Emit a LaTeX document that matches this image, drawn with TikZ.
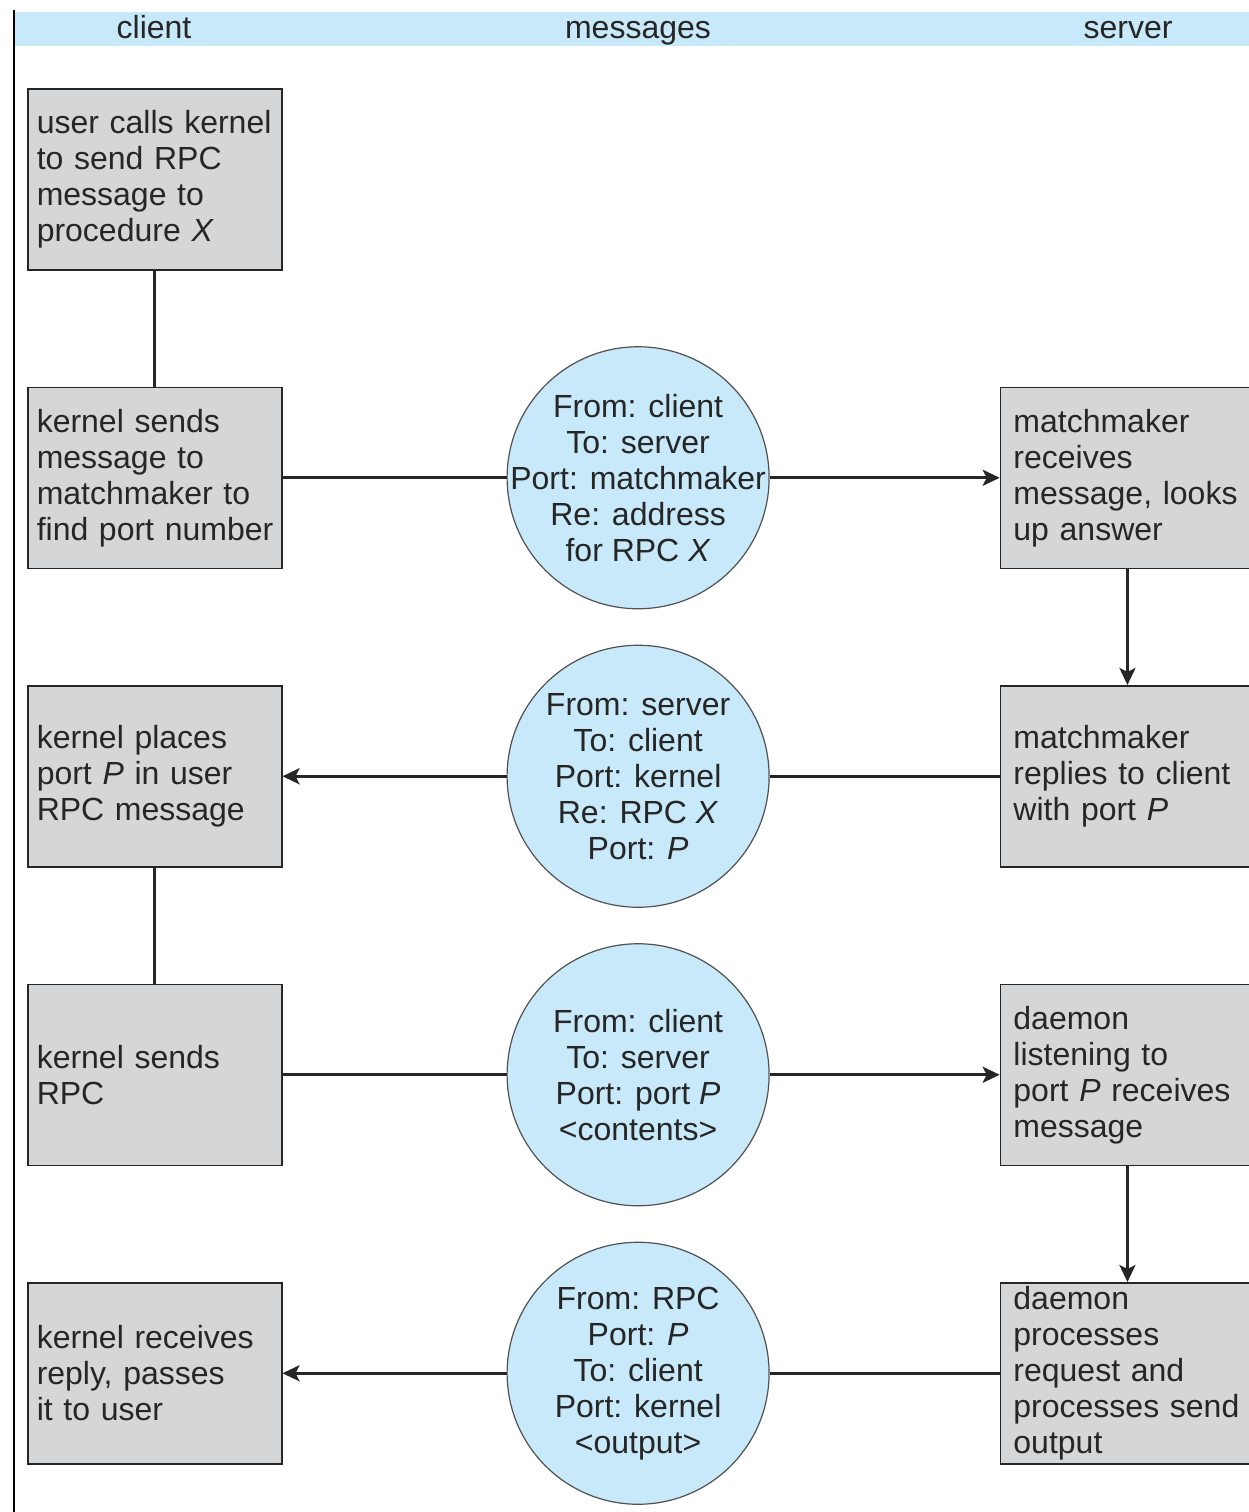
\documentclass[tikz,border=0pt]{standalone}
\usepackage{fontspec}
\setmainfont{Liberation Sans}
\usepackage{tikz}
\usetikzlibrary{positioning, arrows.meta}
\definecolor{boxgray}{RGB}{212,214,215}
\definecolor{msgblue}{RGB}{200,233,249}
\definecolor{inkgray}{RGB}{38,38,38}

\begin{document}
\begin{tikzpicture}[x=0.5pt, y=-0.5pt, node distance=58pt,
	font=\fontsize{16}{18}\selectfont, text=inkgray,
	clientbox/.style={rectangle, draw=inkgray, line width=0.75pt, fill=boxgray, text width=118pt, inner xsep=4.5pt, inner ysep=0pt, minimum height=90.5pt, align=left},
	serverbox/.style={clientbox, text width=114pt, inner xsep=6.5pt},
	msg/.style={circle, draw=inkgray!80, line width=0.6pt, fill=msgblue, minimum size=131pt, inner sep=-15pt, align=center},
	link/.style={draw=inkgray, line width=1.5pt},
	flow/.style={link, -{Stealth[length=8.5pt, width=8pt, inset=2pt]}}]

		\useasboundingbox (0,0) rectangle (1249,1512);

		% header band %
		\fill[msgblue] (14,12) rectangle (1249,46);
		\draw[black, line width=1pt] (14,10) -- (14,1512);
		\node[anchor=base] (hclient) at (154,38) {client};
		\node[anchor=base] (hmsg) at (638,38) {messages};
		\node[anchor=base] (hserver) at (1128,38) {server};

		% nodes - client column %
		\node[clientbox, anchor=north west] (c1) at (27,88) {user calls kernel\\to send RPC\\message to\\procedure \textit{X}};
		\node[clientbox, below=of c1] (c2) {kernel sends\\message to\\matchmaker to\\\mbox{find port number}};
		\node[clientbox, below=of c2] (c3) {kernel places\\port \textit{P} in user\\RPC message};
		\node[clientbox, below=of c3] (c4) {kernel sends\\RPC};
		\node[clientbox, below=of c4] (c5) {kernel receives\\reply, passes\\it to user};

		% nodes - messages %
		\node[msg, right=112pt of c2] (m1) {From: client\\To: server\\Port: matchmaker\\Re: address\\for RPC \textit{X}};
		\node[msg, right=112pt of c3] (m2) {From: server\\To: client\\Port: kernel\\Re: RPC \textit{X}\\Port: \textit{P}};
		\node[msg, right=112pt of c4] (m3) {From: client\\To: server\\Port: port \textit{P}\\<contents>};
		\node[msg, right=112pt of c5] (m4) {From: RPC\\Port: \textit{P}\\To: client\\Port: kernel\\<output>};

		% nodes - server column %
		\node[serverbox, right=115pt of m1] (r1) {matchmaker\\receives\\\mbox{message, looks}\\up answer};
		\node[serverbox, right=115pt of m2] (r2) {matchmaker\\\mbox{replies to client}\\with port \textit{P}};
		\node[serverbox, right=115pt of m3] (r3) {daemon\\listening to\\\mbox{port \textit{P} receives}\\message};
		\node[serverbox, right=115pt of m4] (r4) {daemon\\processes\\request and\\\mbox{processes send}\\output};

		% edges %
		\draw[link] (c1) -- (c2);
		\draw[link] (c2) -- (m1);
		\draw[flow] (m1) -- (r1);
		\draw[flow] (r1) -- (r2);
		\draw[link] (r2) -- (m2);
		\draw[flow] (m2) -- (c3);
		\draw[link] (c3) -- (c4);
		\draw[link] (c4) -- (m3);
		\draw[flow] (m3) -- (r3);
		\draw[flow] (r3) -- (r4);
		\draw[link] (r4) -- (m4);
		\draw[flow] (m4) -- (c5);

\end{tikzpicture}
\end{document}
